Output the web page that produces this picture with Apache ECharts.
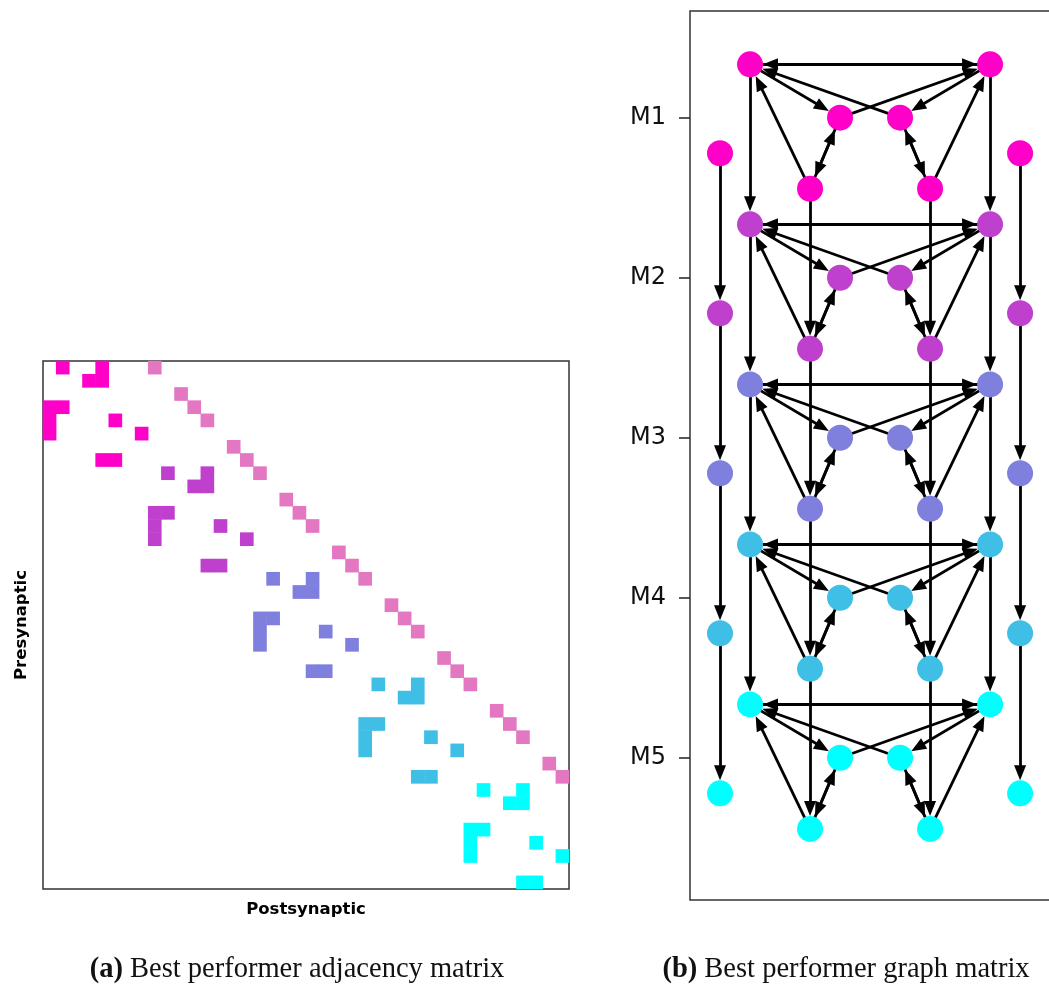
<!DOCTYPE html>
<html><head><meta charset="utf-8">
<script src="https://cdn.jsdelivr.net/npm/echarts@6/dist/echarts.min.js"></script>
<style>html,body{margin:0;padding:0;background:#fff}#c{width:1049px;height:984px}</style>
</head><body><div id="c"></div>
<script>
// ---- data ----
const moduleLabels = ['M1', 'M2', 'M3', 'M4', 'M5'];
const moduleColors = ['#ff00c8', '#bf40cc', '#7f7fdd', '#40bfe6', '#00ffff'];
const interColor = '#e377c2';
const nodesPerModule = 8;
// graph layout of the 8 nodes of one module (graph units)
const localX = [-4, -1, -5, -2, 4, 1, 5, 2];
const localY = [-3, 0, 2, 4, -3, 0, 2, 4];
const moduleCenterY = [0, 9, 18, 27, 36];
// synapses inside a module (pre -> post, local indices)
const intraEdges = [[0,1],[0,4],[1,3],[1,4],[3,0],[3,1],[4,0],[4,5],[5,0],[5,7],[7,4],[7,5]];
// local nodes that project to the same node of the next module
const interNodes = [0, 2, 3, 4, 6, 7];

// ---- derived ----
const N = moduleLabels.length * nodesPerModule;
const cats = Array.from({length: N}, (_, i) => String(i));
const edges = [];
moduleLabels.forEach((m, mi) => {
  const b = mi * nodesPerModule;
  intraEdges.forEach(([s, t]) => edges.push([b + s, b + t, mi]));
  if (mi < moduleLabels.length - 1) interNodes.forEach(s => edges.push([b + s, b + s + nodesPerModule, 5]));
});
const heatData = edges.map(([s, t, c]) => [t, s, c]);
const nodes = [];
const nodePoints = [];
moduleLabels.forEach((m, mi) => {
  for (let k = 0; k < nodesPerModule; k++) {
    const v = [localX[k], moduleCenterY[mi] + localY[k]];
    nodes.push({name: String(mi * nodesPerModule + k), value: v});
    nodePoints.push({value: v, itemStyle: {color: moduleColors[mi]}});
  }
});
const links = edges.map(([s, t]) => ({source: String(s), target: String(t)}));

const pieces = moduleColors.map((c, i) => ({value: i, color: c})).concat([{value: 5, color: interColor}]);

const NODE = 26, HEAD_W = 12, HEAD_L = 15;

const capStyle = {fontFamily: 'Liberation Serif', fontSize: 28.5, fontWeight: 'normal', color: '#111',
  rich: {b: {fontFamily: 'Liberation Serif', fontSize: 28.5, fontWeight: 'bold', color: '#111'}}};

const chart = echarts.init(document.getElementById('c'), null, {renderer: 'canvas'});
chart.setOption({
  animation: false,
  backgroundColor: '#fff',
  title: [
    {text: '{b|(a)} Best performer adjacency matrix', left: 292, top: 950, textAlign: 'center', textStyle: capStyle},
    {text: '{b|(b)} Best performer graph matrix', left: 841, top: 950, textAlign: 'center', textStyle: capStyle}
  ],
  grid: [
    {left: 43, top: 361, width: 526, height: 528, show: true, borderColor: '#333', borderWidth: 1.5,
     backgroundColor: 'transparent', outerBoundsMode: 'none', containLabel: false},
    {left: 690, top: 11, width: 370, height: 889, show: true, borderColor: '#333', borderWidth: 1.5,
     backgroundColor: 'transparent', outerBoundsMode: 'none', containLabel: false}
  ],
  xAxis: [
    {gridIndex: 0, type: 'category', data: cats, axisLine: {show: false}, axisTick: {show: false}, axisLabel: {show: false},
     splitLine: {show: false}, name: 'Postsynaptic', nameLocation: 'middle', nameGap: 12,
     nameTextStyle: {fontFamily: 'DejaVu Sans', fontSize: 16.5, fontWeight: 'bold', color: '#000'}},
    {gridIndex: 1, type: 'value', min: -6, max: 6.33, show: false}
  ],
  yAxis: [
    {gridIndex: 0, type: 'category', data: cats, inverse: true, axisLine: {show: false}, axisTick: {show: false},
     axisLabel: {show: false}, splitLine: {show: false}, name: 'Presynaptic', nameLocation: 'middle', nameGap: 13, nameRotate: 90,
     nameTextStyle: {fontFamily: 'DejaVu Sans', fontSize: 16.5, fontWeight: 'bold', color: '#000'}},
    {gridIndex: 1, type: 'value', inverse: true, min: -6, max: 44, position: 'left',
     axisLine: {show: false, onZero: false}, splitLine: {show: false},
     axisTick: {show: true, inside: false, length: 11, customValues: moduleCenterY, lineStyle: {color: '#222', width: 1.5}},
     axisLabel: {show: true, customValues: moduleCenterY, margin: 24, fontFamily: 'DejaVu Sans', fontSize: 24, color: '#111',
       formatter: v => moduleLabels[moduleCenterY.indexOf(v)] || ''}}
  ],
  visualMap: {type: 'piecewise', show: false, dimension: 2, seriesIndex: 0, pieces: pieces},
  series: [
    {type: 'heatmap', xAxisIndex: 0, yAxisIndex: 0, data: heatData, itemStyle: {borderWidth: 0}, emphasis: {disabled: true}},
    {type: 'graph', coordinateSystem: 'cartesian2d', xAxisIndex: 1, yAxisIndex: 1, layout: 'none',
     data: nodes, links: links, symbol: 'circle', symbolSize: NODE + HEAD_L,
     itemStyle: {color: 'rgba(0,0,0,0)', opacity: 0},
     edgeSymbol: ['none', 'triangle'], edgeSymbolSize: [0, [HEAD_W, HEAD_L]],
     lineStyle: {color: '#000', width: 2.8, opacity: 1, curveness: 0},
     label: {show: false}, emphasis: {disabled: true}, silent: true},
    {type: 'scatter', xAxisIndex: 1, yAxisIndex: 1, data: nodePoints, symbol: 'circle', symbolSize: NODE,
     itemStyle: {opacity: 1}, emphasis: {disabled: true}, silent: true, z: 5}
  ]
});
</script></body></html>
